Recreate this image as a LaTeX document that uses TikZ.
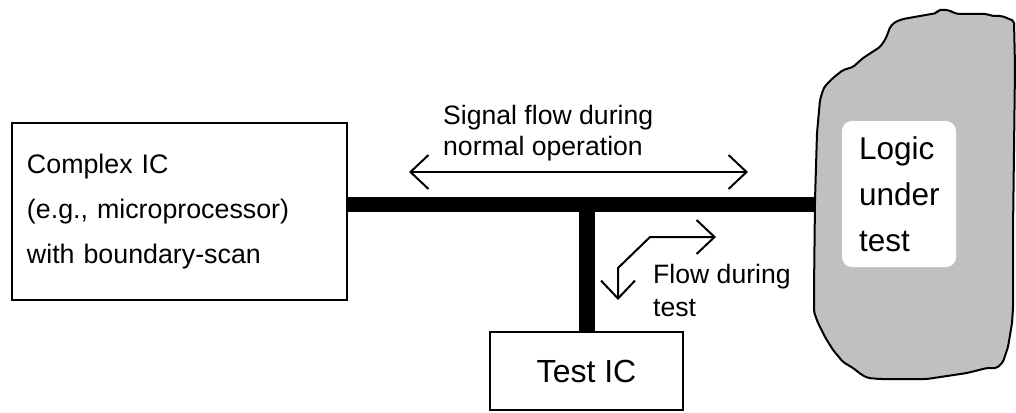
\documentclass[tikz,border=0pt]{standalone}
\usepackage{fontspec}
\setmainfont{Liberation Sans}
\usetikzlibrary{arrows.meta}
\definecolor{blobgray}{RGB}{192,192,192}
\begin{document}
\begin{tikzpicture}[x=1pt,y=-1pt,
  box/.style={draw, line width=2pt, fill=white, inner sep=0pt},
  busline/.style={line width=15pt},
  arr/.style={line width=2pt, line join=miter},
  barb/.tip={Straight Barb[length=18pt,width=34pt]},
  lbl/.style={anchor=north west, inner sep=0pt, align=left}
]
\useasboundingbox (0,0) rectangle (1016,412);
% logic under test blob
\path[draw=black, line width=2pt, fill=blobgray, line join=round, rounded corners=2pt]
  (895,22) -- (903,19) -- (937,13) -- (938,10) -- (948,10) -- (957,14) -- (987,14)
  -- (992,16) -- (1002,16) -- (1014,21) -- (1015,67) -- (1014,150) -- (1013,230)
  -- (1013,308) -- (1012,323) -- (1008,347) -- (1003,362) -- (997,368) -- (987,368)
  -- (967,373) -- (927,379) -- (880,379) -- (868,378) -- (862,375) -- (853,368)
  -- (843,362) -- (833,350) -- (825,337) -- (818,323) -- (814,312) -- (814,290)
  -- (815,200) -- (817,133) -- (820,100) -- (823,90) -- (825,86) -- (833,78)
  -- (843,70) -- (853,67) -- (863,58) -- (880,47) -- (885,40) -- (888,33)
  -- (890,27) -- cycle;
\node[fill=white, rounded corners=10pt, minimum width=114pt, minimum height=146pt,
  text width=80pt, align=left, inner sep=0pt, font=\fontsize{31.5}{46}\selectfont]
  (lut) at (899,194) {Logic\\under\\test};
% boxes
\node[box, minimum width=335pt, minimum height=177pt, text width=305pt, align=left,
  font=\fontsize{26.8}{45}\selectfont] (cpu) at (179.5,211.5)
  {Complex IC\\(e.g., microprocessor)\\with boundary-scan};
\node[box, minimum width=193pt, minimum height=78pt, font=\fontsize{32}{37}\selectfont]
  (tic) at (586.5,371) {Test IC};
% bus
\coordinate (tj) at (586.5,204.5);
\coordinate (bw) at (815,204.5);
\draw[busline] (cpu.east |- tj) -- (bw);
\draw[line width=16pt] ([yshift=7.5pt]tj) -- (tic.north);
% arrows
\coordinate (sl) at (409,172);
\coordinate (sr) at (748,172);
\draw[arr, barb-barb] (sl) -- (sr);
\coordinate (fa) at (716,237);
\coordinate (fb) at (650,237);
\coordinate (fc) at (618,268);
\coordinate (fd) at (618,300);
\draw[arr, barb-barb] (fa) -- (fb) -- (fc) -- (fd);
% labels
\node[lbl, font=\fontsize{26.6}{31.5}\selectfont] (sig) at (443,105)
  {Signal flow during\\normal operation};
\node[lbl, font=\fontsize{26.6}{33}\selectfont] (fl) at (653,264)
  {Flow during\\test};
\end{tikzpicture}
\end{document}
